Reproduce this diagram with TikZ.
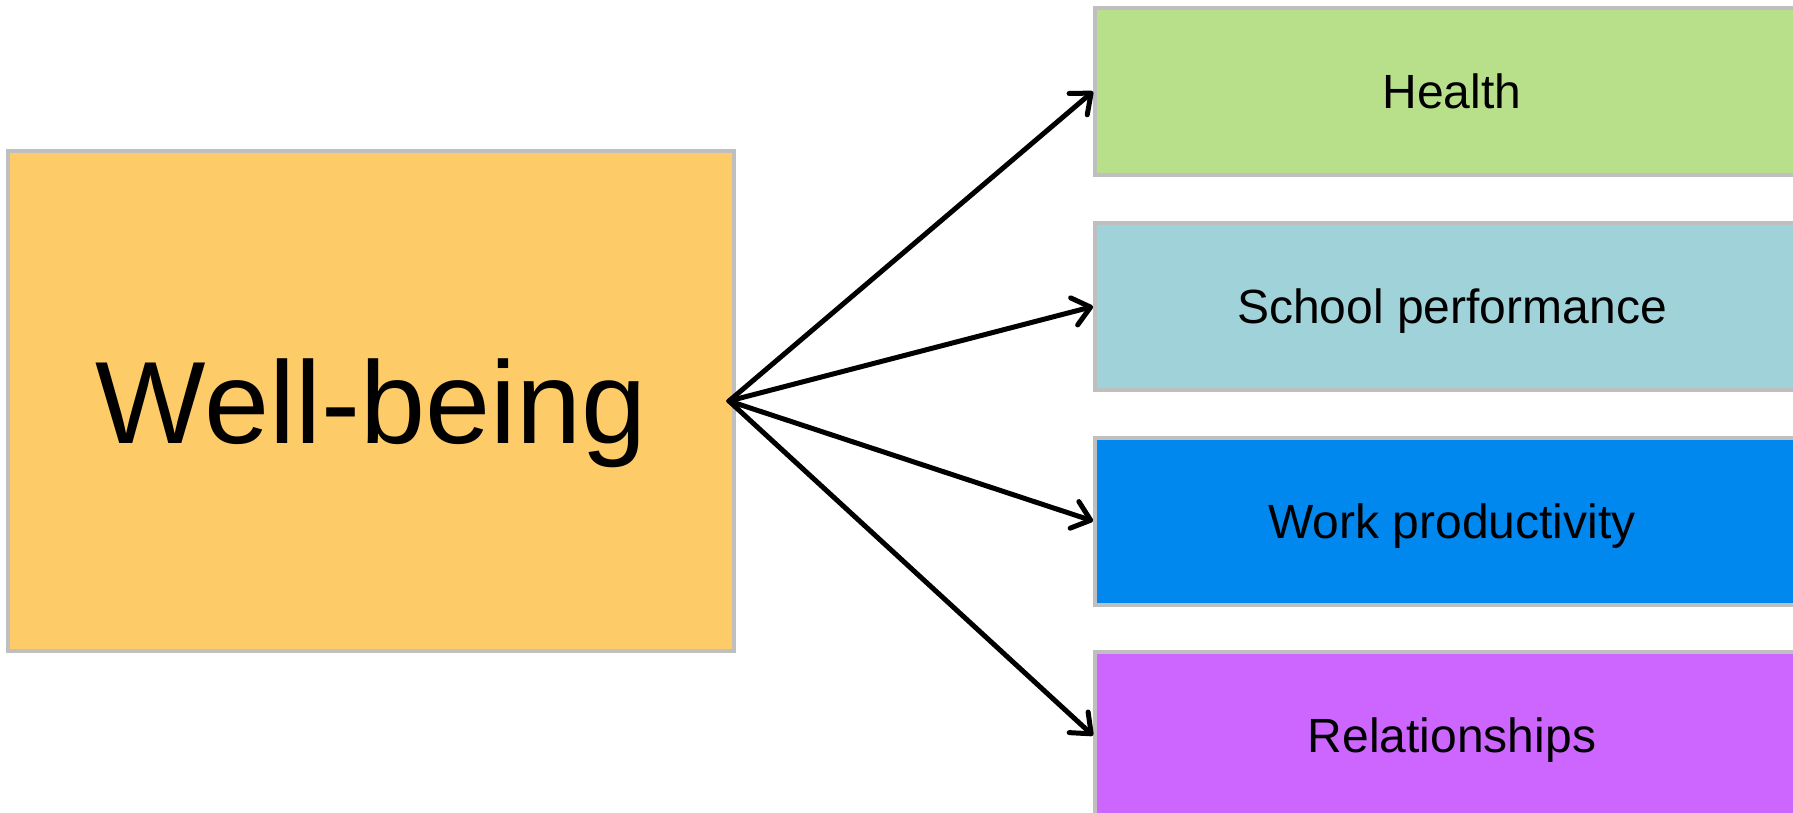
\documentclass[tikz,border=0pt]{standalone}
\usepackage{fontspec}
\setmainfont{Liberation Sans}
\usetikzlibrary{arrows.meta}
\definecolor{bordergray}{HTML}{BFBFBF}
\definecolor{wbfill}{HTML}{FECB69}
\definecolor{healthfill}{HTML}{B8E08A}
\definecolor{schoolfill}{HTML}{9FD3D9}
\definecolor{workfill}{HTML}{0088EE}
\definecolor{relfill}{HTML}{CC66FF}
\begin{document}
\begin{tikzpicture}[x=1pt,y=1pt,
  box/.style={draw=bordergray, line width=4pt, inner sep=0pt, text=black},
  mainbox/.style={box, fill=wbfill, minimum width=726pt, minimum height=500pt,
    font=\fontsize{117}{117}\selectfont, text height=84pt, text depth=0pt},
  outbox/.style={box, minimum width=714pt, minimum height=167pt,
    font=\fontsize{48}{48}\selectfont, text height=34.4pt, text depth=0pt},
  arr/.style={line width=5pt, line cap=round, line join=round,
    -{Straight Barb[length=17pt,width=28pt,line cap=round,line join=round]}}]
\useasboundingbox (0,0) rectangle (1793,-813);
\clip (0,0) rectangle (1793,-813);
\node[mainbox] (wb) at (371,-401) {Well-being};
\node[outbox, fill=healthfill] (h) at (1452,-91.5) {Health};
\node[outbox, fill=schoolfill] (s) at (1452,-306.5) {School performance};
\node[outbox, fill=workfill] (w) at (1452,-521) {Work productivity};
\node[outbox, fill=relfill] (r) at (1452,-735.5) {Relationships};
\coordinate (o) at ([xshift=-7pt]wb.east);
\draw[arr] (o) -- (h.west);
\draw[arr] (o) -- (s.west);
\draw[arr] (o) -- (w.west);
\draw[arr] (o) -- (r.west);
\end{tikzpicture}
\end{document}
